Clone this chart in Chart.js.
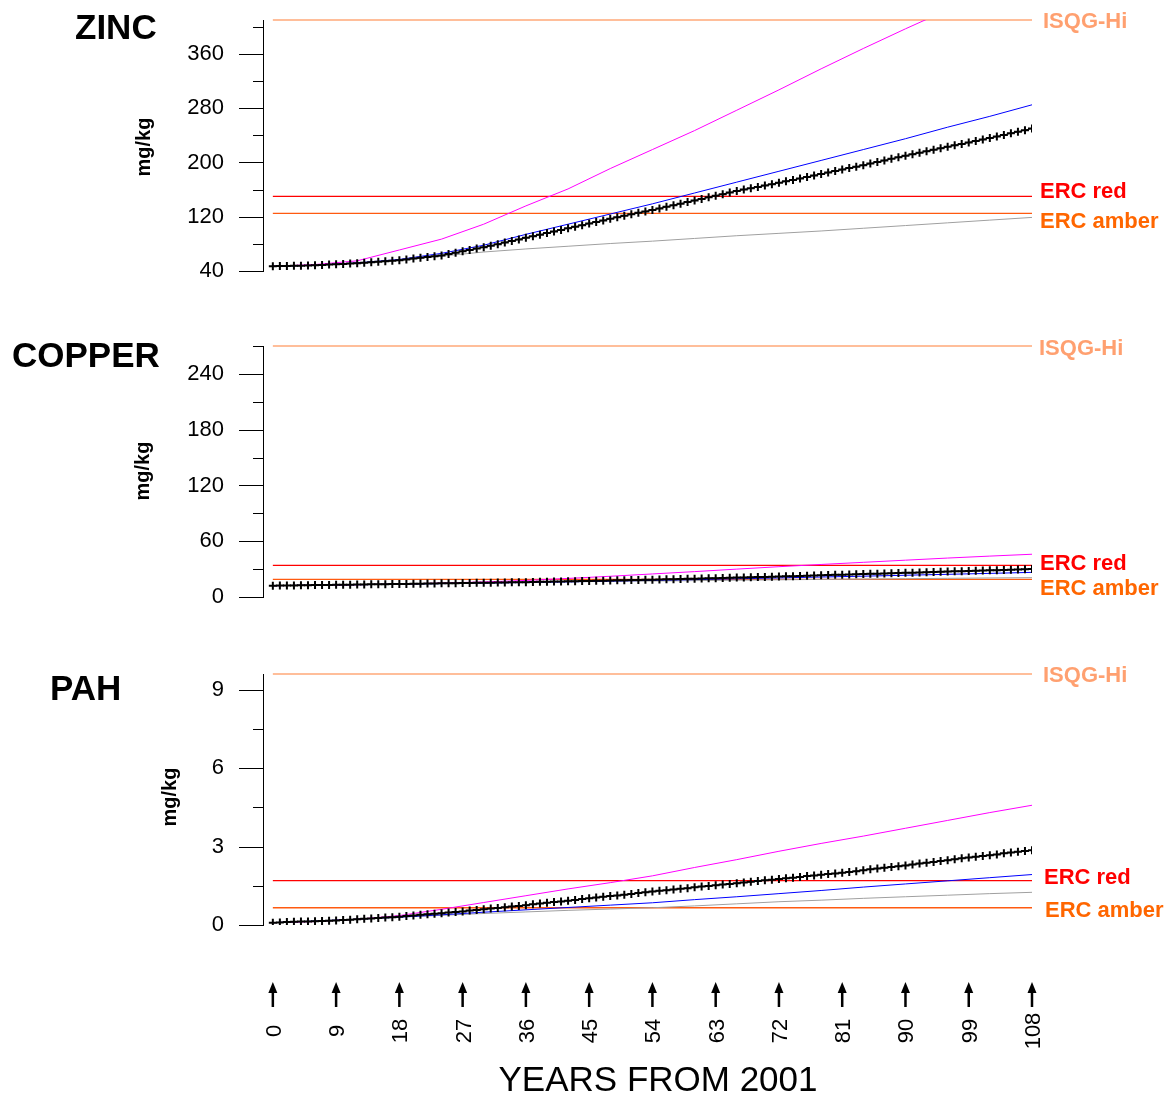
<!DOCTYPE html>
<html>
<head>
<meta charset="utf-8">
<script src="https://cdn.jsdelivr.net/npm/chart.js@4/dist/chart.umd.min.js"></script>
<style>
html,body{margin:0;padding:0;background:#fff;}
#wrap{position:relative;width:1173px;height:1095px;overflow:hidden;background:#fff;}
canvas{position:absolute;left:0;}
</style>
</head>
<body>
<div id="wrap">
<canvas id="cZn" width="1173" height="290" style="top:0px"></canvas>
<canvas id="cCu" width="1173" height="292" style="top:320px"></canvas>
<canvas id="cPah" width="1173" height="445" style="top:650px"></canvas>
</div>
<script>
// ---------------- DATA ----------------
const years = [0,1,2,3,4,5,6,7,8,9,10,11,12,13,14,15,16,17,18,19,20,21,22,23,24,25,26,27,28,29,30,31,32,33,34,35,36,37,38,39,40,41,42,43,44,45,46,47,48,49,50,51,52,53,54,55,56,57,58,59,60,61,62,63,64,65,66,67,68,69,70,71,72,73,74,75,76,77,78,79,80,81,82,83,84,85,86,87,88,89,90,91,92,93,94,95,96,97,98,99,100,101,102,103,104,105,106,107,108];
const lineYears = [0,6,12,18,24,30,36,42,48,54,60,66,72,78,84,90,96,102,108];
const xTickValues = [0,9,18,27,36,45,54,63,72,81,90,99,108];
const xTickLabels = ['0','9','18','27','36','45','54','63','72','81','90','99','108'];
const xTitle = 'YEARS FROM 2001';

const thresholdNames = ['ISQG-Hi','ERC red','ERC amber'];

// ZINC
const zincTickValues = [40,80,120,160,200,240,280,320,360,400];
const zincTickLabels = ['40','','120','','200','','280','','360',''];
const zincThresholds = [410,150,125];
const zincBlack = [47.0,47.2,47.4,47.7,47.9,48.2,48.5,48.9,49.4,49.9,
50.4,50.9,51.5,52.2,52.9,53.7,54.5,55.2,56.0,57.1,
58.3,59.4,60.6,61.8,63.0,65.0,67.0,69.0,71.0,73.0,
75.0,77.3,79.6,82.0,84.3,86.6,89.0,91.3,93.6,96.0,
98.3,100.6,103.0,105.3,107.6,110.0,112.3,114.6,117.0,119.2,
121.3,123.5,125.7,127.8,130.0,132.3,134.6,137.0,139.3,141.6,
144.0,146.3,148.6,151.0,153.3,155.6,158.0,160.0,162.0,164.0,
166.0,168.0,170.0,172.2,174.3,176.5,178.7,180.8,183.0,185.2,
187.3,189.5,191.7,193.8,196.0,198.3,200.6,203.0,205.3,207.6,
210.0,212.2,214.3,216.5,218.7,220.8,223.0,225.2,227.3,229.5,
231.7,233.8,236.0,238.3,240.6,243.0,245.3,247.6,250.0];
const zincMagenta = [47,49.5,55,71,87,109,136,161,191,219,247,277,307,338,368,397,425];
const zincBlue = [47,48.5,52,57,66,78,94,109,124,139,155,171,187,203,219,235,252,268,285];
const zincGray = [47,48.5,51.5,56,62,68,72.5,76.5,80.5,84,88,92,95.5,99,103,107,111,115,119];

// COPPER
const copperTickValues = [0,30,60,90,120,150,180,210,240,270];
const copperTickLabels = ['0','','60','','120','','180','','240',''];
const copperThresholds = [270,34,19];
const copperBlack = [12.2,12.3,12.4,12.5,12.6,12.7,12.8,12.9,13.0,13.1,
13.2,13.3,13.4,13.5,13.6,13.7,13.8,13.9,14.0,14.1,
14.2,14.3,14.4,14.6,14.7,14.8,14.9,15.0,15.1,15.2,
15.3,15.4,15.6,15.7,15.8,15.9,16.0,16.1,16.3,16.4,
16.6,16.7,16.9,17.0,17.2,17.3,17.4,17.6,17.7,17.9,
18.0,18.2,18.3,18.5,18.6,18.8,19.0,19.2,19.4,19.5,
19.7,19.9,20.1,20.3,20.5,20.7,20.9,21.1,21.2,21.4,
21.6,21.8,22.0,22.2,22.4,22.7,22.9,23.1,23.3,23.6,
23.8,24.0,24.2,24.4,24.7,24.9,25.1,25.3,25.6,25.8,
26.0,26.2,26.4,26.7,26.9,27.1,27.3,27.6,27.8,28.0,
28.2,28.4,28.7,28.9,29.1,29.3,29.6,29.8,30.0];
const copperMagenta = [12.2,12.6,13.2,14,15,16.2,17.8,20,22.3,24.8,27.3,30,32.6,35,37.3,39.6,41.9,44,46];
const copperBlue = [12.2,12.7,13.2,13.8,14.4,15,15.6,16.3,17.1,17.9,18.7,19.6,20.5,21.5,22.4,23.4,24.4,25.4,26.5];
const copperGray = [12.2,12.8,13.4,14,14.6,15.2,15.8,16.3,16.8,17.2,17.6,18.1,18.5,18.9,19.3,19.7,20.1,20.5,20.8];

// PAH
const pahTickValues = [0,1.5,3,4.5,6,7.5,9];
const pahTickLabels = ['0','','3','','6','','9'];
const pahThresholds = [9.6,1.7,0.66];
const pahBlack = [0.09,0.10,0.11,0.12,0.13,0.13,0.14,0.15,0.16,0.17,
0.19,0.20,0.22,0.24,0.25,0.27,0.29,0.30,0.32,0.34,
0.36,0.39,0.41,0.43,0.45,0.48,0.50,0.52,0.55,0.57,
0.60,0.63,0.65,0.68,0.71,0.73,0.76,0.79,0.82,0.85,
0.88,0.90,0.93,0.96,0.99,1.02,1.05,1.08,1.11,1.13,
1.16,1.19,1.22,1.25,1.28,1.31,1.33,1.36,1.39,1.41,
1.44,1.47,1.49,1.52,1.55,1.57,1.60,1.63,1.65,1.68,
1.71,1.73,1.76,1.79,1.81,1.84,1.87,1.89,1.92,1.95,
1.97,2.00,2.03,2.06,2.09,2.13,2.16,2.19,2.22,2.25,
2.28,2.31,2.35,2.38,2.41,2.45,2.48,2.51,2.55,2.58,
2.61,2.64,2.67,2.70,2.74,2.77,2.80,2.83,2.86];
const pahMagenta = [0.09,0.13,0.22,0.36,0.6,0.86,1.12,1.38,1.62,1.88,2.2,2.5,2.82,3.12,3.4,3.7,4.0,4.3,4.58];
const pahBlue = [0.09,0.15,0.22,0.3,0.39,0.49,0.58,0.67,0.76,0.85,0.97,1.08,1.2,1.32,1.45,1.57,1.69,1.81,1.93];
const pahGray = [0.09,0.16,0.23,0.3,0.37,0.44,0.5,0.56,0.61,0.66,0.73,0.81,0.89,0.95,1.02,1.08,1.14,1.2,1.25];

// ---------------- STYLE ----------------
const FONT = '"Liberation Sans", Arial, Helvetica, sans-serif';
const lineColors = ['#FFA878', '#FF0000', '#FF5A10'];
const labelColors = ['#FFA070', '#FF0000', '#FF6600'];

function pts(xs, ys) { return ys.map((y, i) => ({x: xs[i], y: y})); }

const decor = {
  id: 'decor',
  afterDraw(chart, args, o) {
    const ctx = chart.ctx, ys = chart.scales.y, xs = chart.scales.x, ca = chart.chartArea;
    const top = o.top;
    ctx.save();
    // y ticks (long for labelled, short for others)
    ctx.strokeStyle = '#000';
    ctx.lineWidth = 1;
    ys.ticks.forEach(t => {
      const y = Math.round(ys.getPixelForValue(t.value)) + 0.5;
      const len = t.label ? 24 : 10;
      ctx.beginPath();
      ctx.moveTo(ca.left - len, y);
      ctx.lineTo(ca.left, y);
      ctx.stroke();
    });
    // panel title
    ctx.fillStyle = '#000';
    ctx.font = 'bold 35px ' + FONT;
    ctx.textAlign = 'left';
    ctx.textBaseline = 'alphabetic';
    ctx.fillText(o.title, o.titleX, o.titleY - top + 0.358 * 35);
    // unit label
    ctx.save();
    ctx.translate(o.unitX, o.unitY - top);
    ctx.rotate(-Math.PI / 2);
    ctx.font = 'bold 20px ' + FONT;
    ctx.textAlign = 'center';
    ctx.textBaseline = 'middle';
    ctx.fillText('mg/kg', 0, 0);
    ctx.restore();
    // threshold labels
    ctx.font = 'bold 22px ' + FONT;
    ctx.textAlign = 'left';
    ctx.textBaseline = 'alphabetic';
    o.thresholds.forEach((v, i) => {
      const y = ys.getPixelForValue(v) + o.labelDy[i];
      ctx.fillStyle = labelColors[i];
      ctx.fillText(thresholdNames[i], ca.right + o.labelDx[i], y + 0.358 * 22);
    });
    // bottom axis with arrows
    if (o.bottomAxis) {
      xTickValues.forEach((v, i) => {
        const x = xs.getPixelForValue(v);
        const tip = 982 - top, base = 993 - top, end = 1007 - top;
        ctx.fillStyle = '#000';
        ctx.strokeStyle = '#000';
        ctx.lineWidth = 2.5;
        ctx.beginPath();
        ctx.moveTo(x, base - 1);
        ctx.lineTo(x, end);
        ctx.stroke();
        ctx.beginPath();
        ctx.moveTo(x, tip);
        ctx.lineTo(x - 4.5, base);
        ctx.lineTo(x + 4.5, base);
        ctx.closePath();
        ctx.fill();
        ctx.save();
        ctx.translate(x, 1031 - top);
        ctx.rotate(-Math.PI / 2);
        ctx.font = '22px ' + FONT;
        ctx.textAlign = 'center';
        ctx.textBaseline = 'alphabetic';
        ctx.fillText(xTickLabels[i], 0, 0.358 * 22);
        ctx.restore();
      });
      ctx.fillStyle = '#000';
      ctx.font = '35px ' + FONT;
      ctx.textAlign = 'center';
      ctx.textBaseline = 'alphabetic';
      ctx.fillText(xTitle, 658, 1078 - top + 0.358 * 35);
    }
    ctx.restore();
  }
};

function makePanel(id, cfg) {
  const thrDatasets = cfg.thresholds.map((v, i) => ({
    data: [{x: years[0], y: v}, {x: years[years.length - 1], y: v}],
    borderColor: lineColors[i], borderWidth: 1.3, pointRadius: 0, clip: false
  }));
  const datasets = [
    { data: pts(years, cfg.black), borderColor: '#000', borderWidth: 1,
      pointStyle: 'cross', pointRadius: 4, pointBorderWidth: 2, pointBorderColor: '#000' },
    { data: pts(lineYears, cfg.magenta), borderColor: '#FF00FF', borderWidth: 1, pointRadius: 0 },
    { data: pts(lineYears, cfg.blue), borderColor: '#0000FF', borderWidth: 1, pointRadius: 0 },
    { data: pts(lineYears, cfg.gray), borderColor: '#A0A0A0', borderWidth: 1, pointRadius: 0 }
  ].concat(thrDatasets);

  return new Chart(document.getElementById(id), {
    type: 'line',
    data: { datasets: datasets },
    options: {
      responsive: false,
      animation: false,
      events: [],
      layout: { padding: { left: 0, right: 141, top: cfg.pt, bottom: cfg.pb } },
      elements: { line: { tension: 0 } },
      plugins: {
        legend: { display: false },
        tooltip: { enabled: false },
        decor: {
          top: cfg.top, title: cfg.title, titleX: cfg.titleX, titleY: cfg.titleY,
          unitX: cfg.unitX, unitY: cfg.unitY, thresholds: cfg.thresholds,
          labelDx: cfg.labelDx, labelDy: cfg.labelDy, bottomAxis: !!cfg.bottomAxis
        }
      },
      scales: {
        x: { type: 'linear', display: false, min: -1.4, max: 108 },
        y: {
          type: 'linear', min: cfg.min, max: cfg.max,
          afterBuildTicks: s => { s.ticks = cfg.tickValues.map(v => ({value: v})); },
          afterFit: s => { s.width = 263; },
          ticks: { autoSkip: false, padding: 1, color: '#000',
                   font: { family: FONT, size: 22 },
                   callback: (v, i) => cfg.tickLabels[i] },
          grid: { drawOnChartArea: false, drawTicks: true, tickLength: 38, tickColor: 'rgba(0,0,0,0)' },
          border: { display: true, color: '#000', width: 1 }
        }
      }
    },
    plugins: [decor]
  });
}

makePanel('cZn', {
  top: 0, pt: 20, pb: 19, min: 40, max: 410,
  tickValues: zincTickValues, tickLabels: zincTickLabels, thresholds: zincThresholds,
  black: zincBlack, magenta: zincMagenta, blue: zincBlue, gray: zincGray,
  title: 'ZINC', titleX: 75, titleY: 26, unitX: 144, unitY: 147,
  labelDx: [11, 8, 8], labelDy: [0, -6, 7]
});
makePanel('cCu', {
  top: 320, pt: 26, pb: 15, min: 0, max: 270,
  tickValues: copperTickValues, tickLabels: copperTickLabels, thresholds: copperThresholds,
  black: copperBlack, magenta: copperMagenta, blue: copperBlue, gray: copperGray,
  title: 'COPPER', titleX: 12, titleY: 354, unitX: 143, unitY: 471,
  labelDx: [7, 8, 8], labelDy: [1, -3, 8]
});
makePanel('cPah', {
  top: 650, pt: 24, pb: 170, min: 0, max: 9.6,
  tickValues: pahTickValues, tickLabels: pahTickLabels, thresholds: pahThresholds,
  black: pahBlack, magenta: pahMagenta, blue: pahBlue, gray: pahGray,
  title: 'PAH', titleX: 50, titleY: 687, unitX: 170, unitY: 797,
  labelDx: [11, 12, 13], labelDy: [0, -4, 1], bottomAxis: true
});
</script>
</body>
</html>
